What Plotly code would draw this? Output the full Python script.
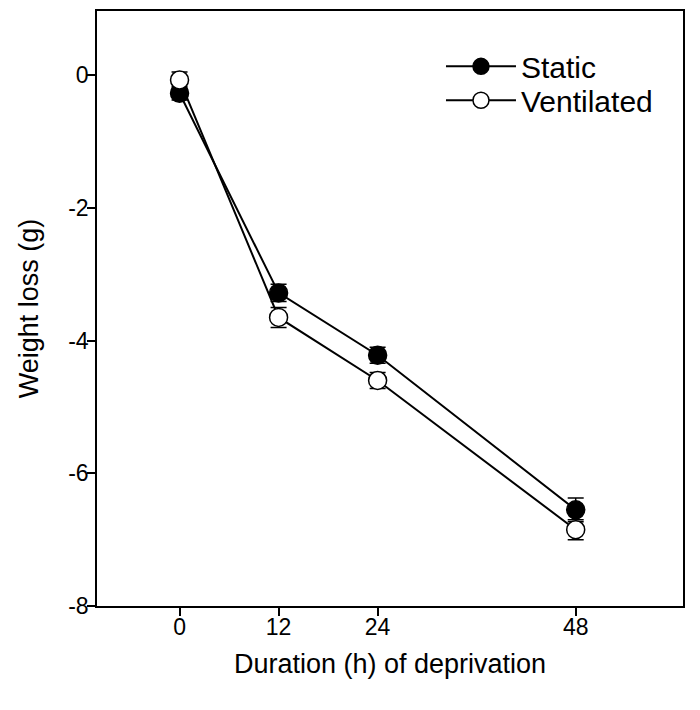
import plotly.graph_objects as go

hours = [0, 12, 24, 48]
static_mean = [-0.27, -3.28, -4.22, -6.55]
static_err = [0.10, 0.13, 0.12, 0.18]
vent_mean = [-0.07, -3.65, -4.60, -6.85]
vent_err = [0.12, 0.15, 0.12, 0.15]
x_ticks = [0, 12, 24, 48]
y_ticks = [0, -2, -4, -6, -8]

FONT = "Liberation Sans, Arial, sans-serif"

fig = go.Figure()
fig.add_trace(go.Scatter(
    x=hours, y=static_mean, name="Static", mode="lines+markers",
    line=dict(color="black", width=2), legend="legend",
    marker=dict(symbol="circle", size=18, color="black", line=dict(color="black", width=1.5)),
    error_y=dict(type="data", array=static_err, visible=True, color="black", thickness=1.5, width=8),
))
fig.add_trace(go.Scatter(
    x=hours, y=vent_mean, name="Ventilated", mode="lines+markers",
    line=dict(color="black", width=2), legend="legend2",
    marker=dict(symbol="circle", size=18, color="white", line=dict(color="black", width=1.5)),
    error_y=dict(type="data", array=vent_err, visible=True, color="black", thickness=1.5, width=8),
))

legend_common = dict(xanchor="left", yanchor="middle", bgcolor="rgba(0,0,0,0)",
                     font=dict(size=30, family=FONT), itemwidth=70)

fig.update_layout(
    width=692, height=702,
    margin=dict(l=89, r=17, t=1, b=104),
    paper_bgcolor="white", plot_bgcolor="white",
    font=dict(family=FONT, size=23, color="black"),
    showlegend=True,
    legend=dict(x=0.587, y=0.907, **legend_common),
    legend2=dict(x=0.587, y=0.850, **legend_common),
    xaxis=dict(
        range=[-10, 61], tickvals=x_ticks, ticktext=[str(v) for v in x_ticks],
        showline=True, linecolor="black", linewidth=1.5, mirror=True,
        ticks="outside", ticklen=8, tickwidth=1.5, tickcolor="black",
        ticklabelposition="outside", ticklabelstandoff=-8,
        showgrid=False, zeroline=False,
        title=dict(text="Duration (h) of deprivation", font=dict(size=27), standoff=15),
        tickfont=dict(size=23),
    ),
    yaxis=dict(
        range=[-8, 0.97], tickvals=y_ticks, ticktext=[str(v) for v in y_ticks],
        showline=True, linecolor="black", linewidth=1.5, mirror=True,
        ticks="outside", ticklen=8, tickwidth=1.5, tickcolor="black",
        ticklabelposition="outside", ticklabelstandoff=-6,
        showgrid=False, zeroline=False,
        title=dict(text="Weight loss (g)", font=dict(size=27), standoff=22),
        tickfont=dict(size=23),
    ),
)

fig.write_html("out.html")
